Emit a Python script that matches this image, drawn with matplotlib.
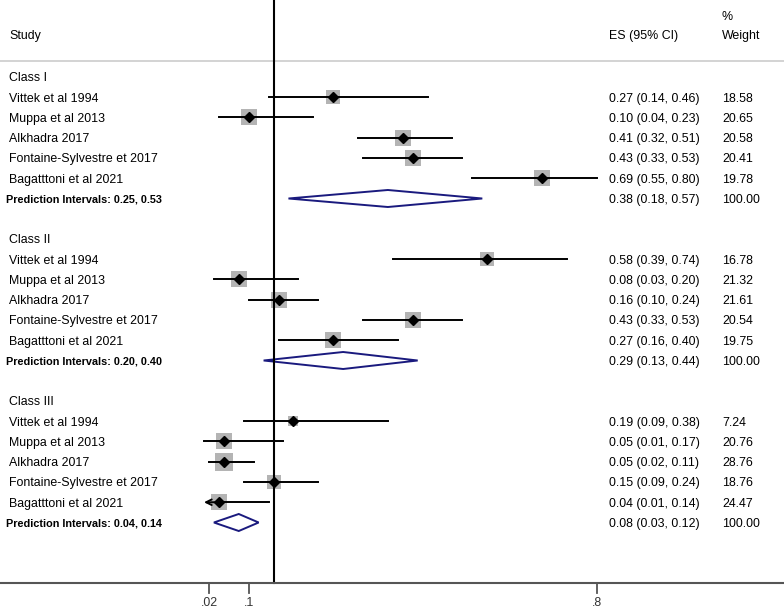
import matplotlib.pyplot as plt
from matplotlib.patches import Polygon

plt.rcParams['font.family'] = ['Liberation Sans', 'DejaVu Sans']

# Study data, per class
classes = ['Class I', 'Class II', 'Class III']
studies = ['Vittek et al 1994', 'Muppa et al 2013', 'Alkhadra 2017',
           'Fontaine-Sylvestre et 2017', 'Bagatttoni et al 2021']

es = [[0.27, 0.10, 0.41, 0.43, 0.69],
      [0.58, 0.08, 0.16, 0.43, 0.27],
      [0.19, 0.05, 0.05, 0.15, 0.04]]
lo = [[0.14, 0.04, 0.32, 0.33, 0.55],
      [0.39, 0.03, 0.10, 0.33, 0.16],
      [0.09, 0.01, 0.02, 0.09, 0.01]]
hi = [[0.46, 0.23, 0.51, 0.53, 0.80],
      [0.74, 0.20, 0.24, 0.53, 0.40],
      [0.38, 0.17, 0.11, 0.24, 0.14]]
weights = [[18.58, 20.65, 20.58, 20.41, 19.78],
           [16.78, 21.32, 21.61, 20.54, 19.75],
           [7.24, 20.76, 28.76, 18.76, 24.47]]
# CI runs off the left edge of the plot -> arrow
clipped = [[False] * 5, [False] * 5, [False, False, False, False, True]]

pooled_es = [0.38, 0.29, 0.08]
pooled_lo = [0.18, 0.13, 0.03]
pooled_hi = [0.57, 0.44, 0.12]
pred_int = ['0.25, 0.53', '0.20, 0.40', '0.04, 0.14']

ref_line = 0.15
xticks = [0.02, 0.1, 0.8]
xticklabels = ['.02', '.1', '.8']

# pixel -> data helpers (axes spans whole figure)
def px(x):
    return (x - 199) / 497.0

def row(y):
    return (y - 77) / 20.25

fig = plt.figure(figsize=(7.84, 6.10), dpi=100)
ax = fig.add_axes([0, 0, 1, 1])
ax.set_xlim(px(0), px(784))
ax.set_ylim(row(610), row(0))
ax.axis('off')

fs = 8.9
navy = '#1a1a7e'
va = 'center_baseline'

# header
ax.text(px(9), row(35), 'Study', fontsize=fs, va=va)
ax.text(px(609), row(35), 'ES (95% CI)', fontsize=fs, va=va)
ax.text(px(722), row(16), '%', fontsize=fs, va=va)
ax.text(px(722), row(35), 'Weight', fontsize=fs, va=va)
ax.plot([px(0), px(784)], [row(61), row(61)], color='#d0d0d0', lw=1.3)

for c in range(len(classes)):
    r0 = c * 8
    ax.text(px(9), r0, classes[c], fontsize=fs, va=va)
    for i in range(len(studies)):
        r = r0 + 1 + i
        ax.text(px(9), r, studies[i], fontsize=fs, va=va)
        if clipped[c][i]:
            ax.plot([es[c][i], hi[c][i]], [r, r], color='black', lw=1.4, zorder=3)
            ax.annotate('', xy=(lo[c][i], r), xytext=(es[c][i], r),
                        arrowprops=dict(arrowstyle='->', color='black', lw=1.4,
                                        shrinkA=0, shrinkB=0), zorder=3)
        else:
            ax.plot([lo[c][i], hi[c][i]], [r, r], color='black', lw=1.4, zorder=3)
        ax.scatter(es[c][i], r, s=6.0 * weights[c][i], marker='s',
                   color='#b4b4b4', lw=0, zorder=2)
        ax.plot(es[c][i], r, marker='D', color='black', ms=4.8, zorder=4)
        ax.text(px(609), r, '%.2f (%.2f, %.2f)' % (es[c][i], lo[c][i], hi[c][i]),
                fontsize=fs, va=va)
        ax.text(px(722), r, '%.2f' % weights[c][i], fontsize=fs, va=va)

    # pooled diamond
    r = r0 + 6
    h = 0.42
    diamond = Polygon([(pooled_lo[c], r), (pooled_es[c], r - h),
                       (pooled_hi[c], r), (pooled_es[c], r + h)],
                      closed=True, facecolor='white', edgecolor=navy, lw=1.4, zorder=3)
    ax.add_patch(diamond)
    ax.text(px(6), r, 'Prediction Intervals: ' + pred_int[c], fontsize=7.8,
            fontweight='bold', va=va)
    ax.text(px(609), r, '%.2f (%.2f, %.2f)' % (pooled_es[c], pooled_lo[c], pooled_hi[c]),
            fontsize=fs, va=va)
    ax.text(px(722), r, '100.00', fontsize=fs, va=va)

# reference line and x axis
axis_row = row(583)
ax.plot([ref_line, ref_line], [row(0), axis_row], color='black', lw=1.5, zorder=5)
ax.plot([px(0), px(784)], [axis_row, axis_row], color='#555555', lw=1.5, zorder=5)
for t, lab in zip(xticks, xticklabels):
    ax.plot([t, t], [axis_row, row(593)], color='#555555', lw=1.3)
    ax.text(t, row(597), lab, fontsize=fs, ha='center', va='top', color='#333333')

plt.savefig('out.png', dpi=100)
